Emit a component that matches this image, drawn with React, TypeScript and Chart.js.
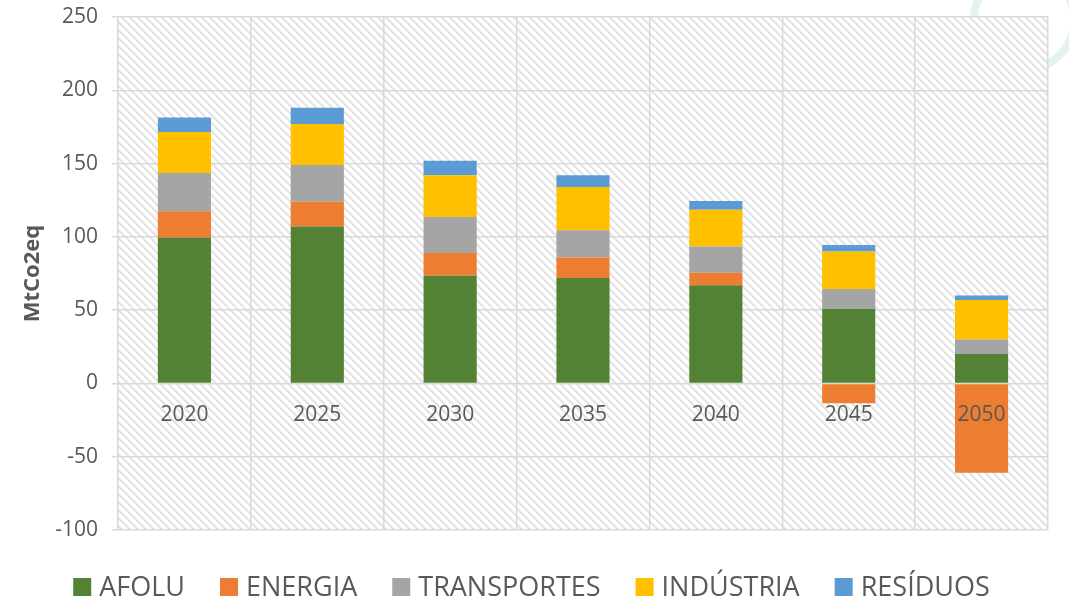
import React, { useEffect, useRef } from "react";
import { Chart, registerables } from "chart.js";

Chart.register(...registerables);

const categories = ["2020", "2025", "2030", "2035", "2040", "2045", "2050"];
const afolu = [99.5, 107, 73.5, 72, 67, 51, 20];
const energia = [18, 17, 15.5, 14, 8.5, -13.5, -61];
const transportes = [26, 25, 24.5, 18.5, 18, 13.5, 10];
const industria = [28, 28, 28.5, 29.5, 25, 25.5, 27];
const residuos = [10, 11, 10, 8, 6, 4.5, 3];

const seriesNames = ["AFOLU", "ENERGIA", "TRANSPORTES", "INDÚSTRIA", "RESÍDUOS"];
const seriesColors = ["#548235", "#ED7D31", "#A5A5A5", "#FFC000", "#5B9BD5"];
const seriesValues = [afolu, energia, transportes, industria, residuos];

const yMin = -100;
const yMax = 250;
const yStep = 50;
const yTitle = "MtCo2eq";

const FONT = "'Open Sans', sans-serif";
const TEXT = "#595959";
const GRID = "#d9d9d9";

function makeHatch(): CanvasPattern | string {
  const c = document.createElement("canvas");
  const P = 8;
  c.width = P;
  c.height = P;
  const g = c.getContext("2d");
  if (!g) return "#f2f2f2";
  const img = g.createImageData(P, P);
  for (let y = 0; y < P; y++) {
    for (let x = 0; x < P; x++) {
      const d = (((x - y) % P) + P) % P;
      let v = 255;
      if (d === 0 || d === 1) v = 226;
      else if (d === 2 || d === P - 1) v = 241;
      const i = (y * P + x) * 4;
      img.data[i] = v;
      img.data[i + 1] = v;
      img.data[i + 2] = v;
      img.data[i + 3] = 255;
    }
  }
  g.putImageData(img, 0, 0);
  const pat = g.createPattern(c, "repeat");
  return pat || "#f2f2f2";
}

const hatchPlugin = {
  id: "hatchBg",
  beforeDraw(chart: any) {
    const { ctx, chartArea } = chart;
    ctx.save();
    // faint decorative watermark arc (top-right corner)
    ctx.strokeStyle = "rgba(196, 230, 212, 0.45)";
    ctx.lineWidth = 8;
    ctx.beginPath();
    ctx.arc(chartArea.right - 24, chartArea.top + 3, 50, 0, Math.PI * 2);
    ctx.stroke();
    ctx.fillStyle = makeHatch();
    ctx.fillRect(chartArea.left, chartArea.top, chartArea.right - chartArea.left, chartArea.bottom - chartArea.top);
    ctx.restore();
  },
};

const legendPlugin = {
  id: "bottomLegend",
  afterDraw(chart: any) {
    const ctx = chart.ctx;
    ctx.save();
    ctx.font = `27px ${FONT}`;
    const box = 18;
    const gap = 8;
    const spacing = 35;
    const datasets = chart.data.datasets;
    const widths = datasets.map((d: any) => ctx.measureText(d.label).width);
    let total = 0;
    widths.forEach((w: number) => (total += box + gap + w));
    total += spacing * (datasets.length - 1);
    let x = chart.width / 2 - total / 2 - 3;
    const baseY = chart.chartArea.bottom + 66;
    datasets.forEach((d: any, i: number) => {
      ctx.fillStyle = d.backgroundColor;
      ctx.fillRect(x, baseY - 18, box, box);
      x += box + gap;
      ctx.fillStyle = TEXT;
      ctx.textBaseline = "alphabetic";
      ctx.textAlign = "left";
      ctx.fillText(d.label, x, baseY);
      x += widths[i] + spacing;
    });
    ctx.restore();
  },
};

export default function App() {
  const ref = useRef<HTMLCanvasElement | null>(null);

  useEffect(() => {
    if (!ref.current) return;
    const chart = new Chart(ref.current, {
      type: "bar",
      data: {
        labels: categories,
        datasets: seriesNames.map((name, i) => ({
          label: name,
          data: seriesValues[i],
          backgroundColor: seriesColors[i],
          borderWidth: 0,
          barPercentage: 0.4,
          categoryPercentage: 1.0,
        })),
      },
      options: {
        animation: false,
        responsive: false,
        devicePixelRatio: 1,
        layout: { padding: { left: 0, top: 17, right: 21, bottom: 72 } },
        plugins: {
          legend: { display: false },
          tooltip: { enabled: false },
        },
        scales: {
          x: {
            stacked: true,
            position: { y: 0 } as any,
            grid: { color: GRID, lineWidth: 1.5, drawTicks: false, offset: true },
            border: { display: false },
            ticks: {
              color: TEXT,
              font: { family: FONT, size: 21 },
              padding: 19,
              z: 1,
            } as any,
            afterFit: (s: any) => {
              s.paddingTop = 0;
              s.paddingBottom = 0;
            },
          },
          y: {
            stacked: true,
            min: yMin,
            max: yMax,
            ticks: {
              stepSize: yStep,
              color: TEXT,
              font: { family: FONT, size: 21 },
              padding: 14,
            },
            grid: { color: GRID, lineWidth: 1.5, tickLength: 6 },
            border: { display: false },
            title: {
              display: true,
              text: yTitle,
              color: TEXT,
              font: { family: FONT, size: 22, weight: "bold" },
              padding: { top: 20, bottom: 0 },
            },
            afterFit: (s: any) => {
              s.width = 118;
              s.paddingTop = 0;
              s.paddingBottom = 0;
            },
          },
        },
      },
      plugins: [hatchPlugin, legendPlugin],
    });
    return () => chart.destroy();
  }, []);

  return (
    <div style={{ position: "fixed", left: 0, top: 0, width: 1069, height: 602, background: "#fff" }}>
      <canvas ref={ref} width={1069} height={602} />
    </div>
  );
}
